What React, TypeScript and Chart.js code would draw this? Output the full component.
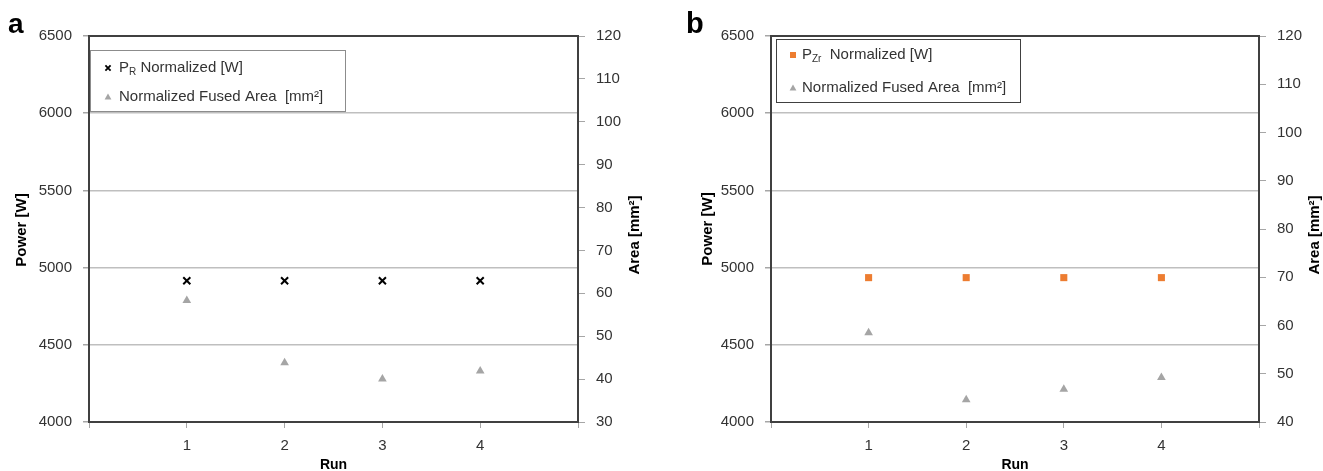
import React, { useEffect, useRef } from 'react';
import { Chart, registerables } from 'chart.js';
Chart.register(...registerables);

// ---- data ----
const runs = [1, 2, 3, 4];
const xTickLabels = ['1', '2', '3', '4'];
const powerA = [4915, 4915, 4915, 4915];
const areaA = [58.3, 43.8, 40.0, 41.9];
const powerB = [4935, 4935, 4935, 4935];
const areaB = [58.5, 44.6, 46.8, 49.2];

const FONT = '"Liberation Sans", Arial, sans-serif';
const TEXT = '#333333';

type Seg = { text: string; sub?: boolean };
type Row = { marker: string; mx: number; tx: number; y: number; segs: Seg[] };

function drawMarker(ctx: CanvasRenderingContext2D, type: string, x: number, y: number) {
  ctx.save();
  if (type === 'cross') {
    ctx.strokeStyle = '#000';
    ctx.lineWidth = 1.8;
    const d = 2.6;
    ctx.beginPath();
    ctx.moveTo(x - d, y - d);
    ctx.lineTo(x + d, y + d);
    ctx.moveTo(x + d, y - d);
    ctx.lineTo(x - d, y + d);
    ctx.stroke();
  } else if (type === 'tri') {
    ctx.fillStyle = '#a5a5a5';
    ctx.beginPath();
    ctx.moveTo(x, y - 3.5);
    ctx.lineTo(x + 3.4, y + 2.5);
    ctx.lineTo(x - 3.4, y + 2.5);
    ctx.closePath();
    ctx.fill();
  } else if (type === 'square') {
    ctx.fillStyle = '#ed7d31';
    ctx.fillRect(x - 3, y - 3, 6, 6);
  }
  ctx.restore();
}

type PanelCfg = {
  letter: string;
  letterX: number;
  letterSize: number;
  leftW: number;
  rightW: number;
  power: number[];
  area: number[];
  areaMin: number;
  powerStyle: any;
  legendBox: { x: number; y: number; w: number; h: number; color: string };
  rows: Row[];
  powerTitle: { x: number; y: number };
  areaTitle: { x: number; y: number };
};

function makeChart(canvas: HTMLCanvasElement, cfg: PanelCfg) {
  const overlay = {
    id: 'overlay' + cfg.letter,
    beforeDatasetsDraw(chart: any) {
      const ctx = chart.ctx as CanvasRenderingContext2D;
      const a = chart.chartArea;
      ctx.save();
      ctx.strokeStyle = '#404040';
      ctx.lineWidth = 2;
      ctx.strokeRect(a.left, a.top, a.right - a.left, a.bottom - a.top);
      ctx.restore();
    },
    afterDraw(chart: any) {
      const ctx = chart.ctx as CanvasRenderingContext2D;
      const a = chart.chartArea;
      ctx.save();
      // legend box
      const b = cfg.legendBox;
      ctx.fillStyle = '#fff';
      ctx.fillRect(b.x, b.y, b.w, b.h);
      ctx.strokeStyle = b.color;
      ctx.lineWidth = 1;
      ctx.strokeRect(b.x + 0.5, b.y + 0.5, b.w, b.h);
      ctx.textBaseline = 'middle';
      ctx.textAlign = 'left';
      ctx.fillStyle = TEXT;
      for (const row of cfg.rows) {
        drawMarker(ctx, row.marker, row.mx, row.y);
        let x = row.tx;
        for (const s of row.segs) {
          ctx.font = s.sub ? `10px ${FONT}` : `15px ${FONT}`;
          ctx.fillStyle = TEXT;
          ctx.fillText(s.text, x, row.y + (s.sub ? 4 : 0));
          x += ctx.measureText(s.text).width;
        }
      }
      // axis titles
      ctx.font = `bold 15px ${FONT}`;
      ctx.fillStyle = '#000';
      ctx.textAlign = 'center';
      ctx.textBaseline = 'middle';
      ctx.save();
      ctx.translate(cfg.powerTitle.x, cfg.powerTitle.y);
      ctx.rotate(-Math.PI / 2);
      ctx.fillText('Power [W]', 0, 0);
      ctx.restore();
      ctx.save();
      ctx.translate(cfg.areaTitle.x, cfg.areaTitle.y);
      ctx.rotate(-Math.PI / 2);
      ctx.fillText('Area [mm\u00B2]', 0, 0);
      ctx.restore();
      ctx.font = `bold 14px ${FONT}`;
      ctx.textBaseline = 'alphabetic';
      ctx.fillText('Run', (a.left + a.right) / 2, 469);
      // panel letter
      ctx.font = `bold ${cfg.letterSize}px ${FONT}`;
      ctx.textAlign = 'left';
      ctx.fillText(cfg.letter, cfg.letterX, 33);
      ctx.restore();
    },
  };

  return new Chart(canvas, {
    type: 'scatter',
    data: {
      datasets: [
        {
          label: 'Power',
          data: runs.map((r, i) => ({ x: r, y: cfg.power[i] })),
          yAxisID: 'y',
          showLine: false,
          ...cfg.powerStyle,
        },
        {
          label: 'Area',
          data: runs.map((r, i) => ({ x: r, y: cfg.area[i] })),
          yAxisID: 'y1',
          showLine: false,
          pointStyle: 'triangle',
          pointRadius: 5,
          backgroundColor: '#a5a5a5',
          borderColor: '#a5a5a5',
          borderWidth: 0,
        },
      ],
    },
    options: {
      responsive: false,
      animation: false,
      events: [],
      layout: { padding: { top: 36, left: 0, right: 0, bottom: 0 } },
      plugins: { legend: { display: false }, tooltip: { enabled: false } },
      scales: {
        x: {
          type: 'linear',
          min: 0,
          max: 5,
          afterFit: (s: any) => { s.height = 49; },
          ticks: {
            stepSize: 1,
            autoSkip: false,
            maxRotation: 0,
            padding: 9,
            color: TEXT,
            font: { family: FONT, size: 15 },
            callback: (v: any) => (v >= 1 && v <= 4 ? xTickLabels[v - 1] : ''),
          },
          grid: { drawOnChartArea: false, tickLength: 6, color: '#a6a6a6' },
          border: { display: false },
        },
        y: {
          position: 'left',
          min: 4000,
          max: 6500,
          afterFit: (s: any) => { s.width = cfg.leftW; },
          ticks: {
            stepSize: 500,
            padding: 11,
            color: TEXT,
            font: { family: FONT, size: 15 },
            callback: (v: any) => String(v),
          },
          grid: { color: '#bfbfbf', tickColor: '#a6a6a6', tickLength: 6, lineWidth: 1.5 },
          border: { display: false },
        },
        y1: {
          position: 'right',
          min: cfg.areaMin,
          max: 120,
          afterFit: (s: any) => { s.width = cfg.rightW; },
          ticks: {
            stepSize: 10,
            padding: 11,
            color: TEXT,
            font: { family: FONT, size: 15 },
            callback: (v: any) => String(v),
          },
          grid: { drawOnChartArea: false, color: '#a6a6a6', tickLength: 7 },
          border: { display: false },
        },
      },
    },
    plugins: [overlay],
  } as any);
}

export default function App() {
  const refA = useRef<HTMLCanvasElement>(null);
  const refB = useRef<HTMLCanvasElement>(null);

  useEffect(() => {
    const chartA = makeChart(refA.current!, {
      letter: 'a',
      letterX: 8,
      letterSize: 28,
      leftW: 89,
      rightW: 82,
      power: powerA,
      area: areaA,
      areaMin: 30,
      powerStyle: {
        pointStyle: 'crossRot',
        pointRadius: 5,
        borderColor: '#000',
        backgroundColor: '#000',
        borderWidth: 2,
      },
      legendBox: { x: 90, y: 50, w: 255, h: 61, color: '#8c8c8c' },
      rows: [
        { marker: 'cross', mx: 108, tx: 119, y: 68, segs: [{ text: 'P' }, { text: 'R', sub: true }, { text: ' Normalized [W]' }] },
        { marker: 'tri', mx: 108, tx: 119, y: 97, segs: [{ text: 'Normalized Fused Area  [mm\u00B2]' }] },
      ],
      powerTitle: { x: 22, y: 230 },
      areaTitle: { x: 635, y: 235 },
    });
    const chartB = makeChart(refB.current!, {
      letter: 'b',
      letterX: 26,
      letterSize: 29,
      leftW: 111,
      rightW: 64,
      power: powerB,
      area: areaB,
      areaMin: 40,
      powerStyle: {
        pointStyle: 'rect',
        pointRadius: 5,
        borderColor: '#ed7d31',
        backgroundColor: '#ed7d31',
        borderWidth: 0,
      },
      legendBox: { x: 116, y: 39, w: 244, h: 63, color: '#404040' },
      rows: [
        { marker: 'square', mx: 133, tx: 142, y: 55, segs: [{ text: 'P' }, { text: 'Zr', sub: true }, { text: '  Normalized [W]' }] },
        { marker: 'tri', mx: 133, tx: 142, y: 88, segs: [{ text: 'Normalized Fused Area  [mm\u00B2]' }] },
      ],
      powerTitle: { x: 48, y: 229 },
      areaTitle: { x: 655, y: 235 },
    });
    return () => {
      chartA.destroy();
      chartB.destroy();
    };
  }, []);

  return (
    <div style={{ position: 'absolute', left: 0, top: 0, width: 1323, height: 471, background: '#fff' }}>
      <canvas ref={refA} width={660} height={471} style={{ position: 'absolute', left: 0, top: 0 }} />
      <canvas ref={refB} width={663} height={471} style={{ position: 'absolute', left: 660, top: 0 }} />
    </div>
  );
}
